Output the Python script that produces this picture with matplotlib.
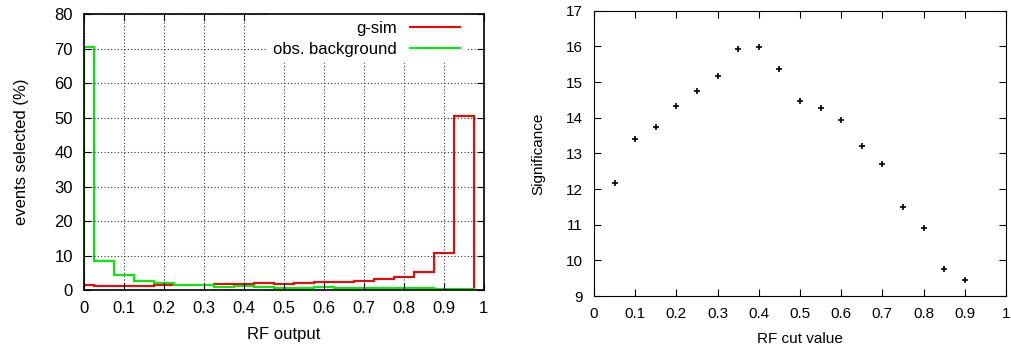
import numpy as np
import matplotlib
matplotlib.use('Agg')
from matplotlib import pyplot as plt

# histogram bins (centres) and percentages
bin_centres = [0.0, 0.05, 0.1, 0.15, 0.2, 0.25, 0.3, 0.35, 0.4, 0.45,
               0.5, 0.55, 0.6, 0.65, 0.7, 0.75, 0.8, 0.85, 0.9, 0.95]
gsim = [1.45, 1.2, 1.2, 1.1, 1.5, 1.6, 1.6, 1.7, 1.7, 1.9,
        1.7, 2.1, 2.3, 2.3, 2.5, 3.2, 3.7, 5.3, 10.6, 50.5]
obs_bkg = [70.5, 8.5, 4.4, 2.7, 2.1, 1.5, 1.5, 1.0, 1.2, 0.8,
           0.7, 0.7, 0.8, 0.6, 0.5, 0.5, 0.5, 0.5, 0.4, 0.2]

# significance vs cut
cut_values = [0.05, 0.1, 0.15, 0.2, 0.25, 0.3, 0.35, 0.4, 0.45,
              0.5, 0.55, 0.6, 0.65, 0.7, 0.75, 0.8, 0.85, 0.9]
significance = [12.18, 13.39, 13.75, 14.32, 14.75, 15.18, 15.94, 15.99, 15.38,
                14.46, 14.27, 13.95, 13.21, 12.71, 11.51, 10.90, 9.75, 9.46]

tick_names = ['0', '0.1', '0.2', '0.3', '0.4', '0.5', '0.6', '0.7', '0.8', '0.9', '1']

matplotlib.rc('font', family=['Liberation Sans', 'DejaVu Sans'], size=12)

fig = plt.figure(figsize=(10.12, 3.52), dpi=100)

# ---- left: RF output distributions
ax1 = fig.add_axes([0.083, 0.176, 0.395, 0.784])
c = np.array(bin_centres)
half = (c[1] - c[0]) / 2
edges = np.concatenate([[0.0], (c[:-1] + c[1:]) / 2, [c[-1] + half]])
ax1.stairs(gsim, edges, color='#ff0000', lw=1.5, baseline=0, label='g-sim')
ax1.stairs(obs_bkg, edges, color='#00ee00', lw=1.5, baseline=0, label='obs. background')
ax1.set_xlim(0, 1)
ax1.set_ylim(0, 80)
ax1.set_xticks(np.arange(0, 1.01, 0.1))
ax1.set_xticklabels(tick_names)
ax1.set_yticks(range(0, 81, 10))
ax1.grid(True, linestyle=(0, (1, 2)), color='#333333', lw=0.8)
ax1.tick_params(direction='in', top=True, right=True, length=5, pad=8)
ax1.set_xlabel('RF output', labelpad=8)
ax1.set_ylabel('events selected (%)', labelpad=18)
leg = ax1.legend(loc='upper right', bbox_to_anchor=(0.957, 1.0), markerfirst=False,
                 frameon=True, fancybox=False, edgecolor='none', framealpha=1,
                 handlelength=3.0, handletextpad=0.8, borderaxespad=0.0,
                 labelspacing=0.35, fontsize=12)
leg.set_zorder(2.2)  # keep the frame under the spines
for s in ax1.spines.values():
    s.set_linewidth(1.2)

# ---- right: significance scan
ax2 = fig.add_axes([0.587, 0.159, 0.407, 0.8105])
ax2.plot(cut_values, significance, '+', color='black', ms=5, mew=1.2)
ax2.set_xlim(0, 1)
ax2.set_ylim(9, 17)
ax2.set_xticks(np.arange(0, 1.01, 0.1))
ax2.set_xticklabels(tick_names, fontsize=11)
ax2.set_yticks(range(9, 18))
ax2.tick_params(direction='in', top=True, right=True, length=5, pad=8, labelsize=11)
ax2.set_xlabel('RF cut value', fontsize=11, labelpad=8)
ax2.set_ylabel('Significance', fontsize=11, labelpad=15)

plt.savefig('out.png', dpi=100)
